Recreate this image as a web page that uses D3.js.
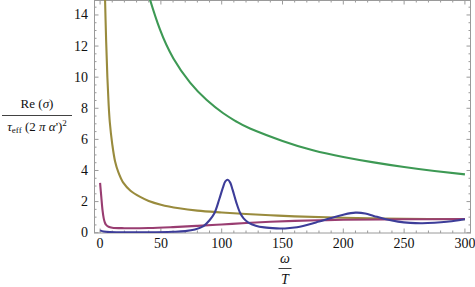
<!DOCTYPE html>
<html>
<head>
<meta charset="utf-8">
<script src="https://cdn.jsdelivr.net/npm/d3@7"></script>
<style>
  body { margin: 0; background: #fff; }
  svg text { font-family: "Liberation Serif", "DejaVu Serif", "Times New Roman", Times, serif !important; }
</style>
</head>
<body>
<figure id="chart" style="margin:0"></figure>
<script>
// values: [omega/T, Re(sigma)/...]
const blueSeries = [[0,0.15],[3,0.08],[8,0.04],[20,0.03],[40,0.03],[60,0.06],[70,0.1],[78,0.2],[85,0.42],[90,0.8],[94,1.25],[98,2.15],[101,2.9],[103,3.3],[105,3.4],[107,3.22],[109,2.75],[112,1.95],[115,1.3],[118,0.92],[122,0.65],[128,0.45],[135,0.34],[145,0.28],[152,0.27],[160,0.33],[170,0.5],[180,0.72],[190,0.95],[200,1.16],[210,1.29],[218,1.24],[225,1.08],[235,0.86],[245,0.71],[255,0.63],[265,0.61],[275,0.64],[285,0.7],[295,0.8],[300,0.86]];
const magentaSeries = [[0,3.2],[1,2.3],[2,1.45],[3,0.92],[4,0.64],[5,0.5],[7,0.38],[10,0.32],[20,0.29],[40,0.3],[60,0.36],[80,0.44],[100,0.53],[120,0.62],[140,0.7],[160,0.76],[180,0.8],[200,0.83],[250,0.86],[300,0.88]];
const oliveSeries = [[3.5,17],[4,15.3],[5,12.3],[6,10],[7,8.3],[8,7.1],[10,5.7],[12.3,4.6],[15,3.9],[19.2,3.2],[25,2.7],[33,2.3],[40,2.04],[50,1.8],[65,1.57],[80,1.42],[100,1.3],[120,1.2],[140,1.12],[160,1.05],[200,0.96],[250,0.9],[300,0.86]];
const greenSeries = [[38,15.8],[41,15],[49.3,13.05],[60.3,11.2],[74,9.65],[87.7,8.53],[101.3,7.68],[112,7.15],[123.3,6.7],[150,5.9],[175,5.3],[200,4.87],[225,4.52],[250,4.22],[275,3.97],[300,3.75]];

const xTicks = [0, 50, 100, 150, 200, 250, 300];
const yTicks = [0, 2, 4, 6, 8, 10, 12, 14];

const width = 475, height = 287;
const plotLeft = 94, plotRight = 471, plotTop = 0, plotBottom = 233;

const svg = d3.select("#chart").append("svg")
  .attr("width", width)
  .attr("height", height)
  .style("display", "block");

const x = d3.scaleLinear().domain([-5, 305]).range([plotLeft, plotRight]);
const y = d3.scaleLinear().domain([0, 15]).range([232.7, -0.6]);

svg.append("clipPath").attr("id", "clip")
  .append("rect")
  .attr("x", plotLeft).attr("y", plotTop)
  .attr("width", plotRight - plotLeft).attr("height", plotBottom - plotTop);

// frame ticks, inward on all four sides
const frameColor = "#9a9a9a";
const g = svg.append("g").attr("stroke", frameColor).attr("stroke-width", 1);

d3.range(0, 301, 10).forEach(v => {
  const major = v % 50 === 0;
  const len = major ? 4.5 : 2.5;
  g.append("line").attr("x1", x(v)).attr("x2", x(v)).attr("y1", plotBottom).attr("y2", plotBottom - len);
  g.append("line").attr("x1", x(v)).attr("x2", x(v)).attr("y1", plotTop).attr("y2", plotTop + len);
});
d3.range(0, 15.01, 0.5).forEach(v => {
  const major = Math.abs(v % 2) < 1e-9;
  const len = major ? 4.5 : 2.5;
  g.append("line").attr("y1", y(v)).attr("y2", y(v)).attr("x1", plotLeft).attr("x2", plotLeft + len);
  g.append("line").attr("y1", y(v)).attr("y2", y(v)).attr("x1", plotRight).attr("x2", plotRight - len);
});

svg.append("rect")
  .attr("x", plotLeft + 0.5).attr("y", plotTop + 0.5)
  .attr("width", plotRight - plotLeft - 1).attr("height", plotBottom - plotTop - 0.5)
  .attr("fill", "none").attr("stroke", frameColor);

// tick labels
svg.append("g").attr("font-size", 14).attr("text-anchor", "middle").attr("fill", "#111")
  .selectAll("text").data(xTicks).join("text")
  .attr("x", d => x(d)).attr("y", 248)
  .text(d => d);

svg.append("g").attr("font-size", 14).attr("text-anchor", "end").attr("fill", "#111")
  .selectAll("text").data(yTicks).join("text")
  .attr("x", 88).attr("y", d => y(d) + 4.5)
  .text(d => d);

// curves
const series = [
  { data: greenSeries, color: "rgb(61,153,84)", curve: d3.curveNatural },
  { data: oliveSeries, color: "rgb(153,139,61)", curve: d3.curveCatmullRom.alpha(0.5) },
  { data: magentaSeries, color: "rgb(153,61,113)", curve: d3.curveCatmullRom.alpha(0.5) },
  { data: blueSeries, color: "rgb(61,61,153)", curve: d3.curveCatmullRom.alpha(0.5) }
];

svg.append("g").attr("clip-path", "url(#clip)")
  .selectAll("path").data(series).join("path")
  .attr("fill", "none")
  .attr("stroke", d => d.color)
  .attr("stroke-width", 2.1)
  .attr("d", d => d3.line().x(p => x(p[0])).y(p => y(p[1])).curve(d.curve)(d.data));

// y axis label (fraction)
const yl = svg.append("g").attr("fill", "#111").attr("font-size", 13);
yl.append("text").attr("x", 37).attr("y", 108).attr("text-anchor", "middle")
  .html('Re (<tspan font-style="italic">σ</tspan>)');
yl.append("line").attr("x1", 2).attr("x2", 72).attr("y1", 115.5).attr("y2", 115.5)
  .attr("stroke", "#111").attr("stroke-width", 0.8);
yl.append("text").attr("x", 37).attr("y", 131).attr("text-anchor", "middle")
  .html('<tspan font-style="italic">τ</tspan><tspan font-size="9" dy="2">eff</tspan><tspan dy="-2"> (2 </tspan><tspan font-style="italic">π α</tspan><tspan>\')</tspan><tspan font-size="9" dy="-5">2</tspan>');

// x axis label (fraction)
const xl = svg.append("g").attr("fill", "#111").attr("font-size", 14).attr("font-style", "italic");
xl.append("text").attr("x", 285).attr("y", 263).attr("text-anchor", "middle").text("ω");
xl.append("line").attr("x1", 278.5).attr("x2", 291.5).attr("y1", 268.5).attr("y2", 268.5)
  .attr("stroke", "#111").attr("stroke-width", 0.8);
xl.append("text").attr("x", 285).attr("y", 284).attr("text-anchor", "middle").text("T");
</script>
</body>
</html>
